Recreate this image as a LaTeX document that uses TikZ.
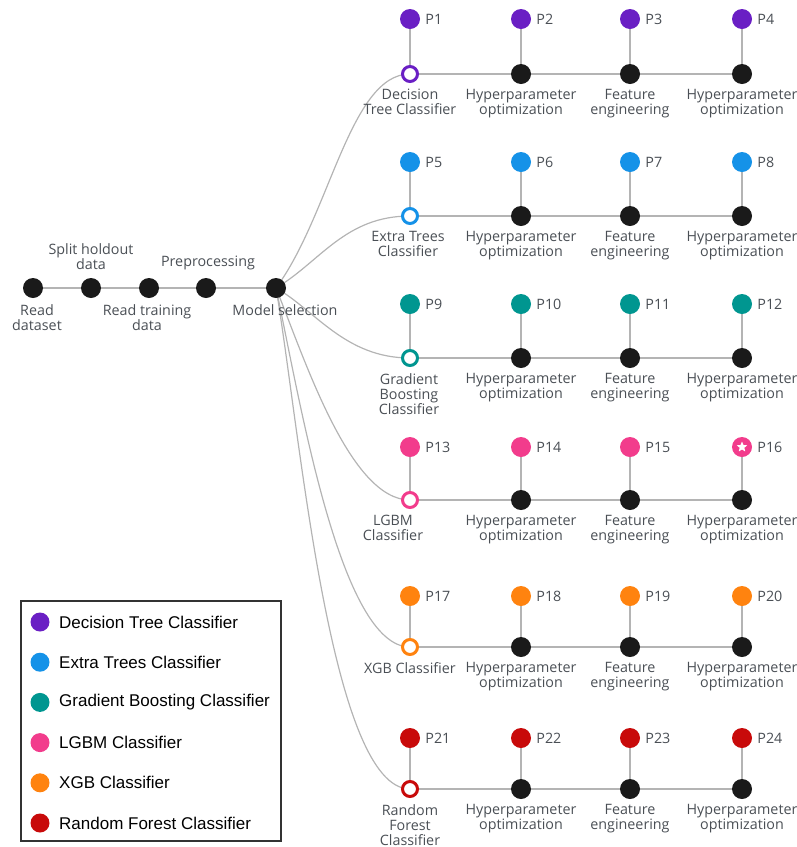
\documentclass[tikz,border=0pt]{standalone}
\usepackage{fontspec}
\setmainfont{Open Sans}
\newfontfamily\legfont{Liberation Sans}
\usetikzlibrary{shapes.geometric}
\definecolor{purp}{HTML}{6A1FC4}
\definecolor{blu}{HTML}{1592E8}
\definecolor{teal}{HTML}{009690}
\definecolor{pink}{HTML}{F23C8C}
\definecolor{orng}{HTML}{FF830F}
\definecolor{redc}{HTML}{C80A0A}
\definecolor{dotblack}{HTML}{1A1A1A}
\definecolor{labelgray}{HTML}{4A4F55}
\definecolor{conngray}{HTML}{B4B4B4}
\pgfdeclarelayer{bg}
\pgfsetlayers{bg,main}
\begin{document}
\begin{tikzpicture}[x=1pt,y=-1pt,
  lbl/.style={font=\fontsize{14.3}{15.2}\selectfont, text=labelgray, align=center, inner sep=0pt},
  plbl/.style={font=\fontsize{14.3}{15.2}\selectfont, text=labelgray, inner sep=0pt},
  dotb/.style={circle, fill=dotblack, minimum size=20pt, inner sep=0pt},
  pdot/.style={circle, fill=#1, minimum size=20pt, inner sep=0pt},
  ring/.style={circle, draw=#1, line width=3pt, fill=white, minimum size=15pt, inner sep=0pt},
  conn/.style={draw=conngray, line width=1.2pt},
  legtext/.style={font=\legfont\fontsize{17}{19}\selectfont, text=black, inner sep=0pt, anchor=west}]
\useasboundingbox (0,0) rectangle (797,847);

% main line
\node[dotb] (rd) at (33,288) {};
\node[dotb] (sh) at (91,288) {};
\node[dotb] (rt) at (149,288) {};
\node[dotb] (pp) at (206,288) {};
\node[dotb] (ms) at (276,288) {};
\begin{pgfonlayer}{bg}
\draw[conn] (rd) -- (sh) -- (rt) -- (pp) -- (ms);
\end{pgfonlayer}
\node[lbl, anchor=north] (rdl) at (37,304) {Read\\dataset};
\node[lbl, anchor=south] (shl) at (91,270) {Split holdout\\data};
\node[lbl, anchor=north] (rtl) at (147,304) {Read training\\data};
\node[lbl, anchor=south] (ppl) at (208,270) {Preprocessing};
\node[lbl, anchor=north] (msl) at (285,304) {Model selection};

% rows
\foreach \i/\y/\py/\c/\ax/\ay/\bx in {1/74/19/purp/330/215/350,2/216/162/blu/320/262/345,3/358/304/teal/315/310/345,4/500/447/pink/305/360/350,5/647/596/orng/300/400/340,6/789/738/redc/300/430/330}{
  \node[ring=\c] (r\i c1) at (410,\y) {};
  \foreach \j/\x in {2/521,3/630,4/742}{
    \node[dotb] (r\i c\j) at (\x,\y) {};
  }
  \foreach \j/\x in {1/410,2/521,3/630,4/742}{
    \pgfmathtruncatemacro\n{4*(\i-1)+\j}
    \node[pdot=\c] (p\n) at (\x,\py) {};
    \node[plbl, anchor=west] (pl\n) at ([xshift=5pt]p\n.east) {P\n};
    \begin{pgfonlayer}{bg}
    \draw[conn] (p\n.center) -- (r\i c\j.center);
    \end{pgfonlayer}
  }
  \begin{pgfonlayer}{bg}
  \draw[conn] (r\i c1.center) -- (r\i c2.center) -- (r\i c3.center) -- (r\i c4.center);
  \draw[conn] (ms.center) .. controls (\ax,\ay) and (\bx,\y) .. (r\i c1.center);
  \end{pgfonlayer}
  \node[lbl, anchor=north] (h1\i) at (521,\y+15) {Hyperparameter\\optimization};
  \node[lbl, anchor=north] (fe\i) at (630,\y+15) {Feature\\engineering};
  \node[lbl, anchor=north] (h2\i) at (742,\y+15) {Hyperparameter\\optimization};
}
\node[star, star points=5, star point ratio=2.2, fill=white, minimum size=11pt, inner sep=0pt] (st) at (p16) {};

\node[lbl, anchor=north] (l1) at (410,89) {Decision\\Tree Classifier};
\node[lbl, anchor=north] (l2) at (408,231) {Extra Trees\\Classifier};
\node[lbl, anchor=north] (l3) at (409,373) {Gradient\\Boosting\\Classifier};
\node[lbl, anchor=north] (l4) at (393,515) {LGBM\\Classifier};
\node[lbl, anchor=north] (l5) at (410,662) {XGB Classifier};
\node[lbl, anchor=north] (l6) at (410,804) {Random\\Forest\\Classifier};

% legend
\draw[draw=black!80, line width=1.1pt] (21,601) rectangle (281,841);
\foreach \k/\c/\t in {0/purp/Decision Tree Classifier,1/blu/Extra Trees Classifier,2/teal/Gradient Boosting Classifier,3/pink/LGBM Classifier,4/orng/XGB Classifier,5/redc/Random Forest Classifier}{
  \node[pdot=\c, minimum size=19pt] (lg\k) at (40,622+40.2*\k) {};
  \node[legtext] (lt\k) at (59,622+40.2*\k) {\t};
}
\end{tikzpicture}
\end{document}
